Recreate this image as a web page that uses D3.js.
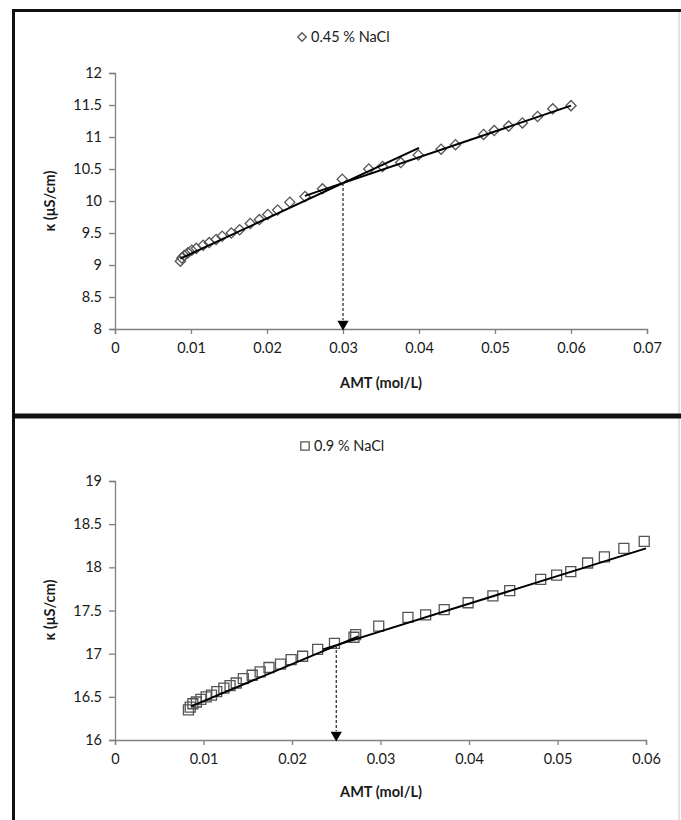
<!DOCTYPE html>
<html>
<head>
<meta charset="utf-8">
<script src="https://cdn.jsdelivr.net/npm/d3@7"></script>
<style>
  body { margin: 0; background: #fff; }
  svg { display: block; }
  text { font-family: Lato, "Open Sans", sans-serif; fill: #1a1a1a; }
</style>
</head>
<body>
<svg width="681" height="820"></svg>
<script>
// ---- top panel : 0.45 % NaCl ----
const topX = [0.0086, 0.0088, 0.0091, 0.0096, 0.0101, 0.0107, 0.0116, 0.0124, 0.0133, 0.0141,
              0.0153, 0.0164, 0.0178, 0.0190, 0.0201, 0.0214, 0.0230, 0.0250, 0.0273, 0.0299,
              0.0334, 0.0352, 0.0376, 0.0399, 0.0429, 0.0448, 0.0485, 0.0499, 0.0518, 0.0536,
              0.0556, 0.0576, 0.0600];
const topY = [9.06, 9.11, 9.15, 9.19, 9.23, 9.26, 9.31, 9.35, 9.40, 9.45,
              9.50, 9.55, 9.65, 9.71, 9.79, 9.86, 9.98, 10.07, 10.19, 10.34,
              10.50, 10.54, 10.60, 10.72, 10.81, 10.88, 11.04, 11.10, 11.17, 11.22,
              11.32, 11.44, 11.49];
const topFitA = [[0.0086, 9.10], [0.0400, 10.83]];
const topFitB = [[0.0250, 10.08], [0.0600, 11.49]];
const topCmc = [0.030, 10.28];
const topXTicks = [0, 0.01, 0.02, 0.03, 0.04, 0.05, 0.06, 0.07];
const topYTicks = [8, 8.5, 9, 9.5, 10, 10.5, 11, 11.5, 12];

// ---- bottom panel : 0.9 % NaCl ----
const botX = [0.0083, 0.0085, 0.0088, 0.0092, 0.0097, 0.0103, 0.0109, 0.0115, 0.0123, 0.0130,
              0.0137, 0.0145, 0.0155, 0.0164, 0.0174, 0.0187, 0.0199, 0.0212, 0.0229, 0.0248,
              0.0270, 0.0272, 0.0298, 0.0331, 0.0351, 0.0372, 0.0399, 0.0427, 0.0446, 0.0481,
              0.0499, 0.0515, 0.0534, 0.0553, 0.0575, 0.0598];
const botY = [16.35, 16.38, 16.42, 16.44, 16.47, 16.50, 16.52, 16.56, 16.60, 16.63,
              16.66, 16.71, 16.75, 16.79, 16.84, 16.88, 16.93, 16.97, 17.05, 17.12,
              17.19, 17.22, 17.32, 17.42, 17.45, 17.51, 17.59, 17.67, 17.73, 17.86,
              17.91, 17.95, 18.05, 18.12, 18.22, 18.30];
const botFitA = [[0.0086, 16.39], [0.0275, 17.20]];
const botFitB = [[0.0235, 17.05], [0.0600, 18.22]];
const botCmc = [0.025, 17.10];
const botXTicks = [0, 0.01, 0.02, 0.03, 0.04, 0.05, 0.06];
const botYTicks = [16, 16.5, 17, 17.5, 18, 18.5, 19];

const svg = d3.select('svg');

// frames round the two panels
svg.append('line').attr('x1', 679).attr('x2', 679).attr('y1', 10).attr('y2', 820)
  .attr('stroke', '#c8c8c8').attr('stroke-width', 1);
svg.append('line').attr('x1', 12).attr('x2', 681).attr('y1', 10.5).attr('y2', 10.5)
  .attr('stroke', '#111').attr('stroke-width', 3);
svg.append('line').attr('x1', 12).attr('x2', 681).attr('y1', 416).attr('y2', 416)
  .attr('stroke', '#111').attr('stroke-width', 5);
svg.append('line').attr('x1', 13.5).attr('x2', 13.5).attr('y1', 9).attr('y2', 820)
  .attr('stroke', '#111').attr('stroke-width', 3);

const drawPanel = (props) => {
  const { xs, ys, fits, cmc, xTicks, yTicks, left, right, top, bottom,
          marker, legend, legendY, yLabelY, xLabelY } = props;

  const x = d3.scaleLinear().domain(d3.extent(xTicks)).range([left, right]);
  const y = d3.scaleLinear().domain(d3.extent(yTicks)).range([bottom, top]);

  const g = svg.append('g');

  const xAxis = d3.axisBottom(x).tickValues(xTicks).tickSize(5).tickPadding(9)
    .tickFormat(d => d);
  const yAxis = d3.axisLeft(y).tickValues(yTicks).tickSize(6).tickPadding(7)
    .tickFormat(d => d);

  const yG = g.append('g').attr('transform', `translate(${left},0)`).call(yAxis);
  const xG = g.append('g').attr('transform', `translate(0,${bottom})`).call(xAxis);
  [xG, yG].forEach(a => {
    a.selectAll('.domain').attr('stroke', '#808080').attr('stroke-width', 1.3);
    a.selectAll('.tick line').attr('stroke', '#808080').attr('stroke-width', 1.3);
    a.selectAll('.tick text').style('font-size', '14.5px').attr('fill', '#1a1a1a');
  });

  // markers
  const pts = xs.map((d, i) => [d, ys[i]]);
  const sym = d3.symbol().type(d3.symbolSquare)
    .size(marker === 'diamond' ? 52 : 100);
  g.selectAll('.pt').data(pts).enter().append('path')
    .attr('class', 'pt')
    .attr('d', sym)
    .attr('transform', d => `translate(${x(d[0])},${y(d[1])})` +
      (marker === 'diamond' ? ' rotate(45)' : ''))
    .attr('fill', 'none')
    .attr('stroke', '#555')
    .attr('stroke-width', 1.3);

  // fit lines
  const line = d3.line().x(d => x(d[0])).y(d => y(d[1]));
  g.selectAll('.fit').data(fits).enter().append('path')
    .attr('class', 'fit')
    .attr('d', line)
    .attr('fill', 'none')
    .attr('stroke', '#000')
    .attr('stroke-width', 2);

  // dashed drop line with arrow head at the x axis
  g.append('line')
    .attr('x1', x(cmc[0])).attr('x2', x(cmc[0]))
    .attr('y1', y(cmc[1])).attr('y2', bottom - 9)
    .attr('stroke', '#222').attr('stroke-width', 1.2)
    .attr('stroke-dasharray', '3,2');
  g.append('path')
    .attr('d', d3.symbol().type(d3.symbolTriangle).size(55))
    .attr('transform', `translate(${x(cmc[0])},${bottom - 5}) rotate(180)`)
    .attr('fill', '#000');

  // legend
  const lg = g.append('g').attr('transform', `translate(${marker === 'diamond' ? 302 : 305},${legendY})`);
  lg.append('path')
    .attr('d', d3.symbol().type(d3.symbolSquare).size(marker === 'diamond' ? 36 : 70))
    .attr('transform', marker === 'diamond' ? 'rotate(45)' : '')
    .attr('fill', 'none').attr('stroke', '#555').attr('stroke-width', 1.3);
  lg.append('text').attr('x', 9).attr('y', 5).style('font-size', '14.5px').text(legend);

  // axis titles
  g.append('text')
    .attr('transform', `translate(55,${yLabelY}) rotate(-90)`)
    .attr('text-anchor', 'middle')
    .style('font-size', '14.5px').style('font-weight', 'bold')
    .text('κ (μS/cm)');
  g.append('text')
    .attr('x', 381).attr('y', xLabelY)
    .attr('text-anchor', 'middle')
    .style('font-size', '14.5px').style('font-weight', 'bold')
    .text('AMT (mol/L)');
};

drawPanel({
  xs: topX, ys: topY, fits: [topFitA, topFitB], cmc: topCmc,
  xTicks: topXTicks, yTicks: topYTicks,
  left: 115, right: 647, top: 73, bottom: 329,
  marker: 'diamond', legend: '0.45 % NaCl', legendY: 37, yLabelY: 201, xLabelY: 388
});

drawPanel({
  xs: botX, ys: botY, fits: [botFitA, botFitB], cmc: botCmc,
  xTicks: botXTicks, yTicks: botYTicks,
  left: 115, right: 646, top: 481, bottom: 740,
  marker: 'square', legend: '0.9 % NaCl', legendY: 446, yLabelY: 610, xLabelY: 797
});
</script>
</body>
</html>
